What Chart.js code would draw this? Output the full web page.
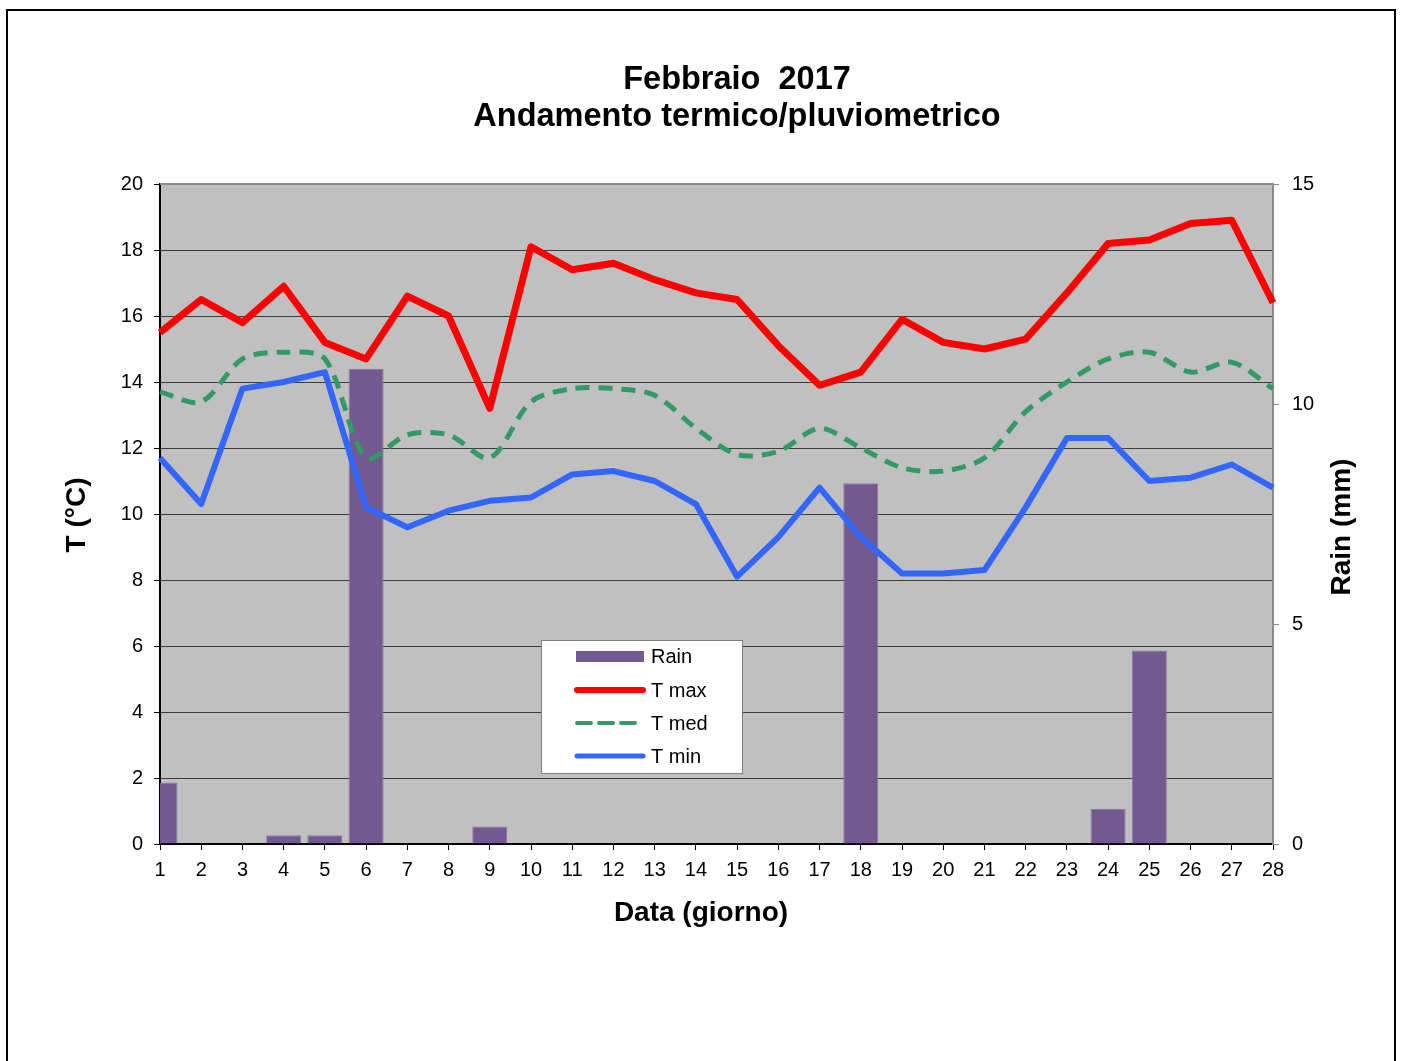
<!DOCTYPE html>
<html>
<head>
<meta charset="utf-8">
<script src="https://cdn.jsdelivr.net/npm/chart.js@4.4.1/dist/chart.umd.min.js"></script>
<style>
html,body{margin:0;padding:0;background:#fff;overflow:hidden;width:1403px;height:1061px}
#frame{position:absolute;left:6px;top:9px;width:1390px;height:1100px;border:2px solid #000;box-sizing:border-box}
#wrap{position:absolute;left:0;top:0;width:1403px;height:1061px}
</style>
</head>
<body>
<div id="frame"></div>
<div id="wrap"><canvas id="c" width="1403" height="1061"></canvas></div>
<script>
const days = ['1','2','3','4','5','6','7','8','9','10','11','12','13','14','15','16','17','18','19','20','21','22','23','24','25','26','27','28'];
const rain = [1.4,0,0,0.2,0.2,10.8,0,0,0.4,0,0,0,0,0,0,0,0,8.2,0,0,0,0,0,0.8,4.4,0,0,0];
const tMax = [15.5,16.5,15.8,16.9,15.2,14.7,16.6,16.0,13.2,18.1,17.4,17.6,17.1,16.7,16.5,15.1,13.9,14.3,15.9,15.2,15.0,15.3,16.7,18.2,18.3,18.8,18.9,16.4];
const tMed = [13.7,13.4,14.7,14.9,14.7,11.7,12.4,12.4,11.7,13.4,13.8,13.8,13.6,12.6,11.8,11.9,12.6,12.0,11.4,11.3,11.7,13.1,14.0,14.7,14.9,14.3,14.6,13.8];
const tMin = [11.7,10.3,13.8,14.0,14.3,10.2,9.6,10.1,10.4,10.5,11.2,11.3,11.0,10.3,8.1,9.3,10.8,9.3,8.2,8.2,8.3,10.2,12.3,12.3,11.0,11.1,11.5,10.8];
const titleLines = ['Febbraio  2017','Andamento termico/pluviometrico'];
const xTitle = 'Data (giorno)';
const yTitle = 'T (°C)';
const y1Title = 'Rain (mm)';
const seriesNames = ['Rain','T max','T med','T min'];

const FONT = "'Liberation Sans', Arial, Helvetica, sans-serif";
Chart.defaults.font.family = FONT;
Chart.defaults.color = '#000';

const bgPlugin = {
  id: 'bg',
  beforeDraw(chart) {
    const {ctx, chartArea: a} = chart;
    ctx.save();
    ctx.fillStyle = '#c0c0c0';
    ctx.fillRect(a.left, a.top, a.right - a.left, a.bottom - a.top);
    ctx.restore();
  },
  afterDraw(chart) {
    const {ctx, chartArea: a} = chart;
    ctx.save();
    ctx.strokeStyle = '#8c8c8c';
    ctx.lineWidth = 2;
    ctx.beginPath();
    ctx.moveTo(a.left, a.top);
    ctx.lineTo(a.right + 1, a.top);
    ctx.stroke();
    ctx.restore();
  }
};

const textPlugin = {
  id: 'texts',
  afterDraw(chart) {
    const {ctx} = chart;
    ctx.save();
    ctx.fillStyle = '#000';
    ctx.textAlign = 'center';
    ctx.textBaseline = 'middle';
    ctx.font = 'bold 32.5px ' + FONT;
    ctx.fillText(titleLines[0], 737, 80);
    ctx.fillText(titleLines[1], 737, 117);
    ctx.font = 'bold 28px ' + FONT;
    ctx.fillText(xTitle, 701, 913);
    ctx.save();
    ctx.translate(77, 515);
    ctx.rotate(-Math.PI / 2);
    ctx.fillText(yTitle, 0, 0);
    ctx.restore();
    ctx.save();
    ctx.translate(1342, 527);
    ctx.rotate(-Math.PI / 2);
    ctx.fillText(y1Title, 0, 0);
    ctx.restore();

    // legend
    const bx = 541, by = 640, bw = 201, bh = 133;
    ctx.fillStyle = '#fff';
    ctx.fillRect(bx, by, bw, bh);
    ctx.strokeStyle = '#808080';
    ctx.lineWidth = 1;
    ctx.strokeRect(bx + 0.5, by + 0.5, bw, bh);
    const rows = [656, 690, 723, 756];
    const ds = chart.data.datasets;
    ds.forEach((d, i) => {
      const y = rows[i];
      ctx.save();
      if (d.type === 'bar') {
        ctx.fillStyle = d.backgroundColor;
        ctx.fillRect(576, y - 5, 68, 11);
      } else {
        ctx.strokeStyle = d.borderColor;
        ctx.lineWidth = d.borderWidth - 1;
        ctx.lineCap = 'round';
        if (d.borderDash) ctx.setLineDash([14, 8]);
        ctx.beginPath();
        ctx.moveTo(577, y);
        ctx.lineTo(643, y);
        ctx.stroke();
      }
      ctx.restore();
      ctx.fillStyle = '#000';
      ctx.textAlign = 'left';
      ctx.font = '20px ' + FONT;
      ctx.fillText(d.label, 651, y + 1);
    });
    ctx.restore();
  }
};

new Chart(document.getElementById('c'), {
  data: {
    labels: days,
    datasets: [
      {type:'bar', label: seriesNames[0], data: rain, yAxisID:'y1', backgroundColor:'#725A91', borderColor:'#8a7aa6', borderWidth:1, barPercentage:0.85, categoryPercentage:1, order:4},
      {type:'line', label: seriesNames[1], data: tMax, yAxisID:'y', borderColor:'#FF0000', borderWidth:7, pointRadius:0, tension:0, borderJoinStyle:'round', order:1},
      {type:'line', label: seriesNames[2], data: tMed, yAxisID:'y', borderColor:'#339966', borderWidth:5, borderDash:[14,9], pointRadius:0, tension:0.3, borderJoinStyle:'round', order:3},
      {type:'line', label: seriesNames[3], data: tMin, yAxisID:'y', borderColor:'#3366FF', borderWidth:6, pointRadius:0, tension:0, borderJoinStyle:'round', order:2}
    ]
  },
  options: {
    responsive: false,
    animation: false,
    events: [],
    layout: {padding: {top: 184, bottom: 117, left: 0, right: 0}},
    plugins: {legend: {display:false}, title: {display:false}, tooltip: {enabled:false}},
    scales: {
      x: {
        type: 'category', offset: false,
        grid: {offset:false, drawOnChartArea:false, drawTicks:true, tickLength:6, color:'#000', lineWidth:1},
        border: {color:'#000', width:2},
        ticks: {color:'#000', font:{size:20}, padding:8, maxRotation:0, autoSkip:false},
        afterFit: s => { s.height = 100; }
      },
      y: {
        position: 'left', min: 0, max: 20,
        ticks: {stepSize: 2, color:'#000', font:{size:20}, padding:11},
        grid: {color:'#3c3c3c', lineWidth:1, tickLength:6, tickColor:'#000'},
        border: {color:'#000', width:2},
        afterFit: s => { s.width = 160; }
      },
      y1: {
        position: 'right', min: 0, max: 15,
        ticks: {stepSize: 5, color:'#000', font:{size:20}, padding:13},
        grid: {drawOnChartArea:false, tickLength:6, color:'#8c8c8c'},
        border: {color:'#8c8c8c', width:2},
        afterFit: s => { s.width = 130; }
      }
    }
  },
  plugins: [bgPlugin, textPlugin]
});
</script>
</body>
</html>
